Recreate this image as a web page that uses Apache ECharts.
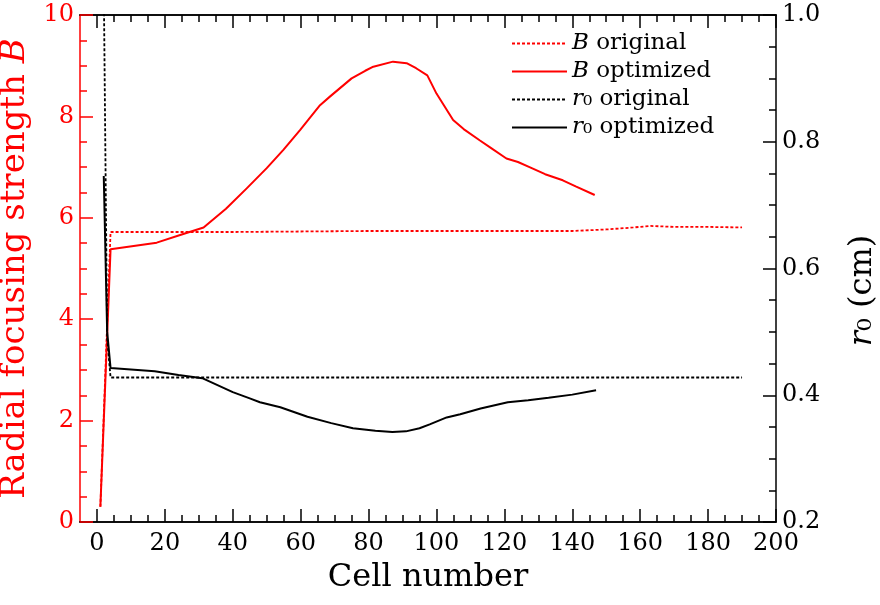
<!DOCTYPE html>
<html><head><meta charset="utf-8">
<script src="https://cdn.jsdelivr.net/npm/echarts@6/dist/echarts.min.js"></script>
<style>html,body{margin:0;padding:0;background:#fff}#c{width:880px;height:605px}</style>
</head><body><div id="c"></div>
<script>
// ---- data ----
const xMajorTicks = [0,20,40,60,80,100,120,140,160,180,200];
const xMinorTicks = [5,10,15,25,30,35,45,50,55,65,70,75,85,90,95,105,110,115,125,130,135,145,150,155,165,170,175,185,190,195];

const bOrigX = [1, 4, 20, 40, 60, 80, 100, 120, 140, 150, 158, 163, 170, 180, 190];
const bOrigY = [0.30, 5.72, 5.72, 5.72, 5.73, 5.74, 5.74, 5.74, 5.74, 5.77, 5.81, 5.84, 5.82, 5.82, 5.81];

const bOptX = [1, 4, 17.6, 24.5, 31.4, 38, 44.1, 50, 54.9, 59.8, 65.7, 68.6, 75, 79, 81.4, 87.2, 91.2, 94, 97.3, 100, 104.9, 108, 112.7, 116, 120.6, 124, 127.4, 132, 137.2, 141, 146.6];
const bOptY = [0.30, 5.38, 5.51, 5.66, 5.81, 6.18, 6.58, 6.98, 7.34, 7.73, 8.22, 8.39, 8.75, 8.90, 8.98, 9.08, 9.05, 8.95, 8.81, 8.45, 7.93, 7.75, 7.53, 7.38, 7.17, 7.10, 7.00, 6.86, 6.74, 6.62, 6.45];

const r0OrigX = [2, 3, 4, 190];
const r0OrigY = [1.05, 0.49, 0.428, 0.428];

const r0OptX = [2, 3, 4, 17, 24, 31, 40, 45, 48, 54, 62, 69, 75.4, 82, 87, 91, 95, 98, 103, 107, 113, 121, 127, 133, 140, 147];
const r0OptY = [0.746, 0.50, 0.443, 0.438, 0.432, 0.427, 0.405, 0.395, 0.389, 0.381, 0.366, 0.356, 0.348, 0.344, 0.342, 0.343, 0.348, 0.354, 0.365, 0.370, 0.379, 0.389, 0.392, 0.396, 0.401, 0.408];

const seriesNames = ['B original', 'B optimized', 'r0 original', 'r0 optimized'];
const legendLabels = {
  'B original': '{i|B} original',
  'B optimized': '{i|B} optimized',
  'r0 original': '{i|r}\u2080 original',
  'r0 optimized': '{i|r}\u2080 optimized'
};

const pairs = (xs, ys) => xs.map((x, i) => [x, ys[i]]);
const FONT = 'DejaVu Serif';
const RED = '#ff0000';

function xAx(gridIndex, position, ticks, len, labels, extra) {
  return Object.assign({
    type: 'value', gridIndex: gridIndex, min: -5, max: 200, position: position,
    axisLine: { show: true, onZero: false, lineStyle: { color: '#000', width: 1.5 } },
    axisTick: { show: true, inside: true, length: len, customValues: ticks, lineStyle: { color: '#000', width: 1.5 } },
    axisLabel: labels ? { show: true, customValues: xMajorTicks, fontFamily: FONT, fontSize: 24, color: '#000', margin: 10 } : { show: false },
    splitLine: { show: false }
  }, extra || {});
}
const gridRect = { left: 80, right: 104, top: 15, bottom: 83, containLabel: false, outerBoundsMode: 'none' };

const chart = echarts.init(document.getElementById('c'), null, { renderer: 'canvas' });
chart.setOption({
  animation: false,
  backgroundColor: '#fff',
  grid: [Object.assign({}, gridRect), Object.assign({}, gridRect)],
  legend: {
    data: seriesNames,
    orient: 'vertical',
    left: 506, top: 27,
    itemWidth: 55, itemHeight: 14, itemGap: 5,
    itemStyle: { opacity: 0 },
    formatter: n => legendLabels[n],
    textStyle: { fontFamily: FONT, fontSize: 23, color: '#000',
      rich: { i: { fontFamily: FONT, fontSize: 23, fontStyle: 'italic', color: '#000' } } }
  },
  xAxis: [
    xAx(0, 'bottom', xMajorTicks, 13, true, {
      name: 'Cell number', nameLocation: 'middle', nameGap: 40,
      nameTextStyle: { fontFamily: FONT, fontSize: 32, color: '#000' }
    }),
    xAx(0, 'top', xMajorTicks, 13, false),
    xAx(1, 'bottom', xMinorTicks, 7, false),
    xAx(1, 'top', xMinorTicks, 7, false)
  ],
  yAxis: [
    {
      type: 'value', gridIndex: 0, min: 0, max: 10, interval: 2, position: 'left',
      axisLine: { show: true, onZero: false, lineStyle: { color: RED, width: 1.5 } },
      axisTick: { show: true, inside: true, length: 13, lineStyle: { color: RED, width: 1.5 } },
      minorTick: { show: true, splitNumber: 4, length: 7, lineStyle: { color: RED, width: 1.5 } },
      axisLabel: { fontFamily: FONT, fontSize: 24, color: RED, margin: 6 },
      splitLine: { show: false }, minorSplitLine: { show: false },
      name: 'Radial focusing strength {i|B}', nameLocation: 'middle', nameGap: 36, nameRotate: 90,
      nameTextStyle: { fontFamily: FONT, fontSize: 34, color: RED,
        rich: { i: { fontFamily: FONT, fontSize: 34, fontStyle: 'italic', color: RED } } }
    },
    {
      type: 'value', gridIndex: 0, min: 0.2, max: 1.0, interval: 0.2, position: 'right',
      axisLine: { show: true, onZero: false, lineStyle: { color: '#000', width: 1.5 } },
      axisTick: { show: true, inside: true, length: 13, lineStyle: { color: '#000', width: 1.5 } },
      minorTick: { show: true, splitNumber: 4, length: 7, lineStyle: { color: '#000', width: 1.5 } },
      axisLabel: { fontFamily: FONT, fontSize: 24, color: '#000', margin: 6, formatter: v => v.toFixed(1) },
      splitLine: { show: false }, minorSplitLine: { show: false },
      name: '{i|r}\u2080 (cm)', nameLocation: 'middle', nameGap: 71, nameRotate: 90,
      nameTextStyle: { fontFamily: FONT, fontSize: 32, color: '#000', padding: [0, 44, 0, 0],
        rich: { i: { fontFamily: FONT, fontSize: 32, fontStyle: 'italic', color: '#000' } } }
    },
    {
      type: 'value', gridIndex: 1, min: 0, max: 10, show: false
    }
  ],
  series: [
    { name: 'B original', type: 'line', xAxisIndex: 0, yAxisIndex: 0, symbol: 'none',
      lineStyle: { color: RED, width: 1.8, type: [3, 2] }, itemStyle: { color: RED },
      data: pairs(bOrigX, bOrigY) },
    { name: 'B optimized', type: 'line', xAxisIndex: 0, yAxisIndex: 0, symbol: 'none',
      lineStyle: { color: RED, width: 2 }, itemStyle: { color: RED },
      data: pairs(bOptX, bOptY) },
    { name: 'r0 original', type: 'line', xAxisIndex: 0, yAxisIndex: 1, symbol: 'none',
      lineStyle: { color: '#000', width: 1.8, type: [3, 2] }, itemStyle: { color: '#000' },
      data: pairs(r0OrigX, r0OrigY) },
    { name: 'r0 optimized', type: 'line', xAxisIndex: 0, yAxisIndex: 1, symbol: 'none',
      lineStyle: { color: '#000', width: 2 }, itemStyle: { color: '#000' },
      data: pairs(r0OptX, r0OptY) }
  ]
});
</script></body></html>
